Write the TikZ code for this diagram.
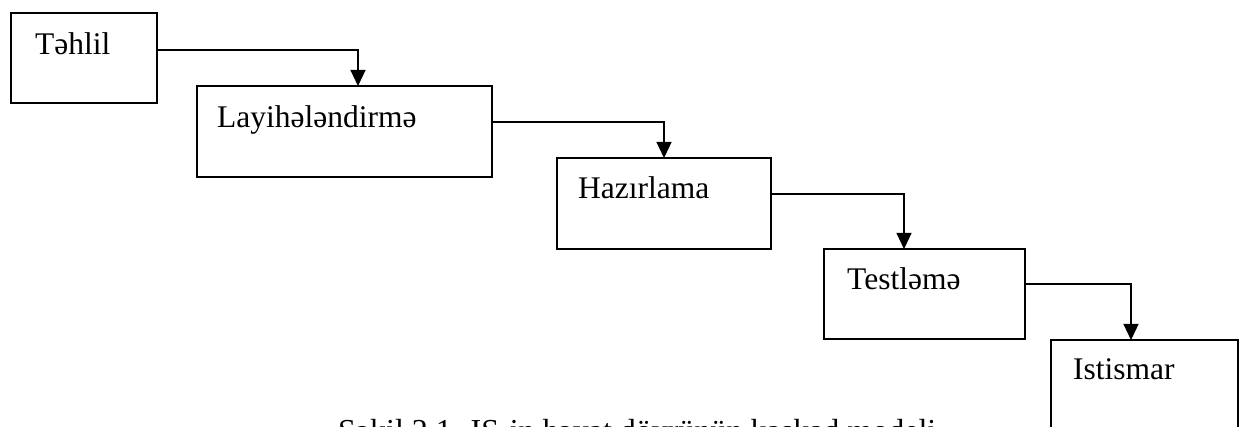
\documentclass[tikz,border=0pt]{standalone}
\usepackage{fontspec}
\setmainfont{Liberation Serif}
\usetikzlibrary{arrows.meta}
\begin{document}
\begin{tikzpicture}[x=1pt,y=-1pt,
  stage/.style={draw,line width=1.3pt,inner sep=0pt,outer sep=0pt,rectangle},
  stagetext/.style={anchor=base west,inner sep=0pt,font=\fontsize{31.5}{38}\selectfont},
  flow/.style={line width=1.2pt,-{Triangle[length=16pt,width=15pt]}},
  captext/.style={anchor=base west,inner sep=0pt,font=\fontsize{32}{38}\selectfont}]
  \useasboundingbox (0,0) rectangle (1242,427);
  \clip (0,0) rectangle (1242,427);
  % stage boxes
  \node[stage,minimum width=146pt,minimum height=90pt] (b1) at (84,58) {};
  \node[stage,minimum width=295pt,minimum height=91pt] (b2) at (344.5,131.5) {};
  \node[stage,minimum width=214pt,minimum height=91pt] (b3) at (664,203.5) {};
  \node[stage,minimum width=201pt,minimum height=90pt] (b4) at (924.5,294) {};
  \node[stage,minimum width=187pt,minimum height=120pt] (b5) at (1144.5,400) {};
  % stage names
  \node[stagetext] (t1) at (35,55) {Təhlil};
  \node[stagetext] (t2) at (217,128) {Layihələndirmə};
  \node[stagetext] (t3) at (578,199) {Hazırlama};
  \node[stagetext] (t4) at (847,290) {Testləmə};
  \node[stagetext] (t5) at (1073,380) {Istismar};
  % connectors between stages
  \draw[flow] ([yshift=8pt]b1.east) -| ([xshift=13.5pt]b2.north);
  \draw[flow] ([yshift=9.5pt]b2.east) -| (b3.north);
  \draw[flow] ([yshift=9.5pt]b3.east) -| ([xshift=-20.5pt]b4.north);
  \draw[flow] ([yshift=10pt]b4.east) -| ([xshift=-13.5pt]b5.north);
  % figure caption
  \node[captext] (cap) at (338,441) {Şəkil 2.1. IS-in həyat dövrünün kaskad modeli};
\end{tikzpicture}
\end{document}
